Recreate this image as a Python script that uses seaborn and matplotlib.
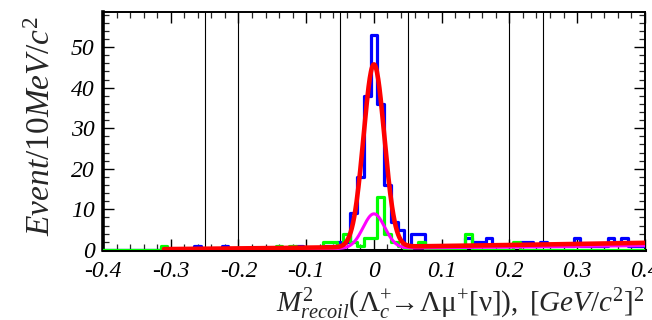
import numpy as np
import pandas as pd
import matplotlib
matplotlib.use("Agg")
import matplotlib.pyplot as plt
import seaborn as sns

# ---------------- data ----------------
bin_width = 0.01
bin_index = list(range(-40, 41))           # bins centred on k*0.01
blue_counts = [
    0, 0, 0, 0, 0, 0, 0, 0, 0, 0,          # -40 .. -31
    0, 0, 0, 0, 1, 0, 0, 0, 1, 0,          # -30 .. -21
    0, 0, 0, 0, 0, 0, 0, 0, 0, 1,          # -20 .. -11
    0, 0, 0, 1, 1, 2, 2, 9, 18, 38,        # -10 .. -1
    53,                                    # 0
    36, 16, 7, 5, 1, 4, 4, 1, 1, 0,        # 1 .. 10
    1, 1, 1, 3, 2, 2, 3, 1, 1, 1,          # 11 .. 20
    1, 2, 2, 1, 2, 1, 1, 1, 1, 3,          # 21 .. 30
    1, 1, 1, 1, 3, 2, 3, 1, 1, 1,          # 31 .. 40
]
green_counts = [
    0, 0, 0, 0, 0, 0, 0, 0, 0, 1,          # -40 .. -31
    0, 0, 0, 0, 0, 0, 0, 0, 0, 0,          # -30 .. -21
    0, 0, 0, 0, 0, 0, 1, 0, 1, 0,          # -20 .. -11
    0, 0, 0, 2, 2, 1, 4, 2, 1, 3,          # -10 .. -1
    3,                                     # 0
    13, 4, 2, 1, 0, 1, 2, 0, 0, 0,         # 1 .. 10
    0, 0, 0, 4, 0, 0, 0, 0, 0, 0,          # 11 .. 20
    2, 0, 0, 0, 0, 0, 0, 0, 0, 0,          # 21 .. 30
    0, 0, 0, 0, 0, 0, 0, 0, 0, 0,          # 31 .. 40
]
# fit results (curves)
fit_range = [-0.31, 0.40]
signal_amp, signal_mean, signal_sigma = 36.5, 0.0, 0.0152
peakbkg_amp, peakbkg_sigma = 8.5, 0.0160
total_bkg_poly = [0.75, 2.1, 1.0]     # c0 + c1 x + c2 x^2
comp_bkg_poly = [0.40, 1.4, 0.6]
region_lines = [-0.25, -0.2, -0.05, 0.05, 0.2, 0.25]
xticks = [-0.4, -0.3, -0.2, -0.1, 0.0, 0.1, 0.2, 0.3, 0.4]
xtick_labels = ["-0.4", "-0.3", "-0.2", "-0.1", "0", "0.1", "0.2", "0.3", "0.4"]
yticks = [0, 10, 20, 30, 40, 50]

# ---------------- style ----------------
sns.set_style("ticks")
plt.rcParams["font.family"] = ["Liberation Serif", "DejaVu Serif"]
plt.rcParams["mathtext.fontset"] = "custom"
plt.rcParams["mathtext.rm"] = "Liberation Serif"
plt.rcParams["mathtext.it"] = "Liberation Serif:italic"
plt.rcParams["mathtext.bf"] = "Liberation Serif:bold"

fig = plt.figure(figsize=(6.52, 3.20), dpi=100)
ax = fig.add_axes([0.158, 0.219, 0.831, 0.744])

centers = [k * bin_width for k in bin_index]
edges = [c - bin_width / 2 for c in centers] + [centers[-1] + bin_width / 2]
df = pd.DataFrame({"m": centers, "blue": blue_counts, "green": green_counts})

sns.histplot(data=df, x="m", weights="blue", bins=edges, element="step",
             fill=False, color="#0000ff", linewidth=2.3, ax=ax, zorder=3)
sns.histplot(data=df, x="m", weights="green", bins=edges, element="step",
             fill=False, color="#00ff00", linewidth=2.3, ax=ax, zorder=4)

xs = np.linspace(fit_range[0], fit_range[1], 800)
gauss_sig = signal_amp * np.exp(-0.5 * ((xs - signal_mean) / signal_sigma) ** 2)
gauss_pk = peakbkg_amp * np.exp(-0.5 * ((xs - signal_mean) / peakbkg_sigma) ** 2)
comp_bkg = comp_bkg_poly[0] + comp_bkg_poly[1] * xs + comp_bkg_poly[2] * xs ** 2
tot_bkg = total_bkg_poly[0] + total_bkg_poly[1] * xs + total_bkg_poly[2] * xs ** 2
magenta = gauss_pk + comp_bkg
red = gauss_sig + gauss_pk + tot_bkg

sns.lineplot(x=xs, y=magenta, color="#ff00ff", linewidth=2.2, ax=ax, zorder=5,
             sort=False)
sns.lineplot(x=xs, y=red, color="#ff0000", linewidth=3.3, ax=ax, zorder=6,
             sort=False)

for xv in region_lines:
    ax.axvline(xv, color="black", linewidth=0.8, zorder=2)

ax.set_xlim(-0.4, 0.4)
ax.set_ylim(0, 58.7)
ax.set_xticks(xticks)
ax.set_xticklabels(xtick_labels, fontstyle="italic", fontsize=17)
ax.set_yticks(yticks)
ax.set_yticklabels([str(v) for v in yticks], fontstyle="italic", fontsize=17)
ax.xaxis.set_minor_locator(matplotlib.ticker.MultipleLocator(0.02))
ax.yaxis.set_minor_locator(matplotlib.ticker.MultipleLocator(2))
ax.tick_params(which="major", direction="in", length=8, width=1.0,
               top=True, right=True, pad=5, colors="black")
ax.tick_params(which="minor", direction="in", length=4, width=0.9,
               top=True, right=True)
ax.tick_params(axis="x", which="major", pad=8)
ax.tick_params(axis="y", which="major", pad=6)

ax.spines["left"].set_linewidth(2.6)
ax.spines["bottom"].set_linewidth(2.2)
ax.spines["top"].set_linewidth(1.4)
ax.spines["right"].set_linewidth(1.4)
for s in ax.spines.values():
    s.set_color("black")

ax.set_ylabel(r"$Event/10MeV/c^{2}$", fontsize=24)
ax.set_xlabel(r"$M^{2}_{recoil}(\mathrm{Λ}_{c}^{+}\!\!\rightarrow\!\mathrm{Λμ}^{+}[\mathrm{ν}]),\ [GeV/c^{2}]^{2}$",
              fontsize=21)
ax.xaxis.set_label_coords(1.0, -0.148)
ax.xaxis.label.set_horizontalalignment("right")
ax.yaxis.set_label_coords(-0.085, 0.52)

fig.savefig("out.png", dpi=100)
